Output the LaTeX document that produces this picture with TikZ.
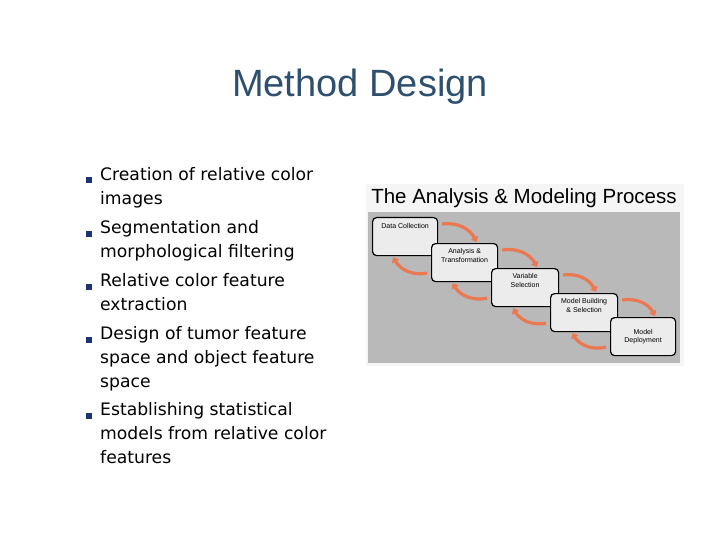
\documentclass[tikz,border=0pt]{standalone}
\usepackage{fontspec}
\setmainfont{DejaVu Sans}
\newfontfamily\arial{Liberation Sans}
\usetikzlibrary{arrows.meta}
\definecolor{titleblue}{RGB}{47,79,111}
\definecolor{bul}{RGB}{30,50,120}
\definecolor{arr}{RGB}{235,120,80}
\tikzset{
 item/.style={anchor=north west,align=left,font=\fontsize{17.2}{24}\selectfont,inner sep=0pt},
 bullet/.style={fill=bul,minimum size=6pt,inner sep=0pt},
 stepbox/.style={draw=black,line width=1.2pt,fill=gray!15,rounded corners=4pt,anchor=north west,align=center,font=\arial\fontsize{7}{8.5}\selectfont,inner sep=1pt},
 curv/.style={-{Triangle[length=5pt,width=8pt]},line width=3.2pt,arr},
}
\begin{document}
\begin{tikzpicture}[x=1pt,y=-1pt]
\useasboundingbox (0,0) rectangle (720,540);
\node[font=\arial\fontsize{38}{42}\selectfont,text=titleblue] (title) at (360,87) {Method Design};
\foreach \y/\n in {180/b1,234/b2,287/b3,340/b4,416/b5}{\node[bullet] (\n) at (89,\y) {};}
\node[item] (t1) at (100,167) {Creation of relative color\\images};
\node[item] (t2) at (100,220) {Segmentation and\\morphological filtering};
\node[item] (t3) at (100,273) {Relative color feature\\extraction};
\node[item] (t4) at (100,326) {Design of tumor feature\\space and object feature\\space};
\node[item] (t5) at (100,402) {Establishing statistical\\models from relative color\\features};
% panel
\node[fill=gray!8,minimum width=318pt,minimum height=182pt,anchor=north west,inner sep=0pt] (frame) at (366,184) {};
\node[anchor=north,font=\arial\fontsize{20.5}{22}\selectfont,inner sep=0pt] (ptitle) at (524,188) {The Analysis \& Modeling Process};
\node[fill=gray!55,minimum width=312pt,minimum height=151pt,anchor=north west,inner sep=0pt] (panel) at (368,212) {};
\node[stepbox,minimum width=65pt,minimum height=38pt] (s1) at (372,217) {Data Collection\\[12pt]};
\node[stepbox,minimum width=66pt,minimum height=38pt] (s2) at (431,243) {Analysis \&\\Transformation\\[6pt]};
\node[stepbox,minimum width=67pt,minimum height=38pt] (s3) at (491,268) {Variable\\Selection\\[6pt]};
\node[stepbox,minimum width=67pt,minimum height=38pt] (s4) at (550,293) {Model Building\\\& Selection\\[6pt]};
\node[stepbox,minimum width=65pt,minimum height=38pt] (s5) at (610,317) {Model\\Deployment};
\foreach \a/\b in {s1/s2,s2/s3,s3/s4,s4/s5}{
 \draw[curv] ([xshift=4pt,yshift=-7pt]\a.north east) to[bend left=35] ([xshift=12pt,yshift=1pt]\b.north);
 \draw[curv] ([xshift=-4pt,yshift=9pt]\b.south west) to[bend left=35] ([xshift=-12pt,yshift=-1pt]\a.south);
}
\end{tikzpicture}
\end{document}
